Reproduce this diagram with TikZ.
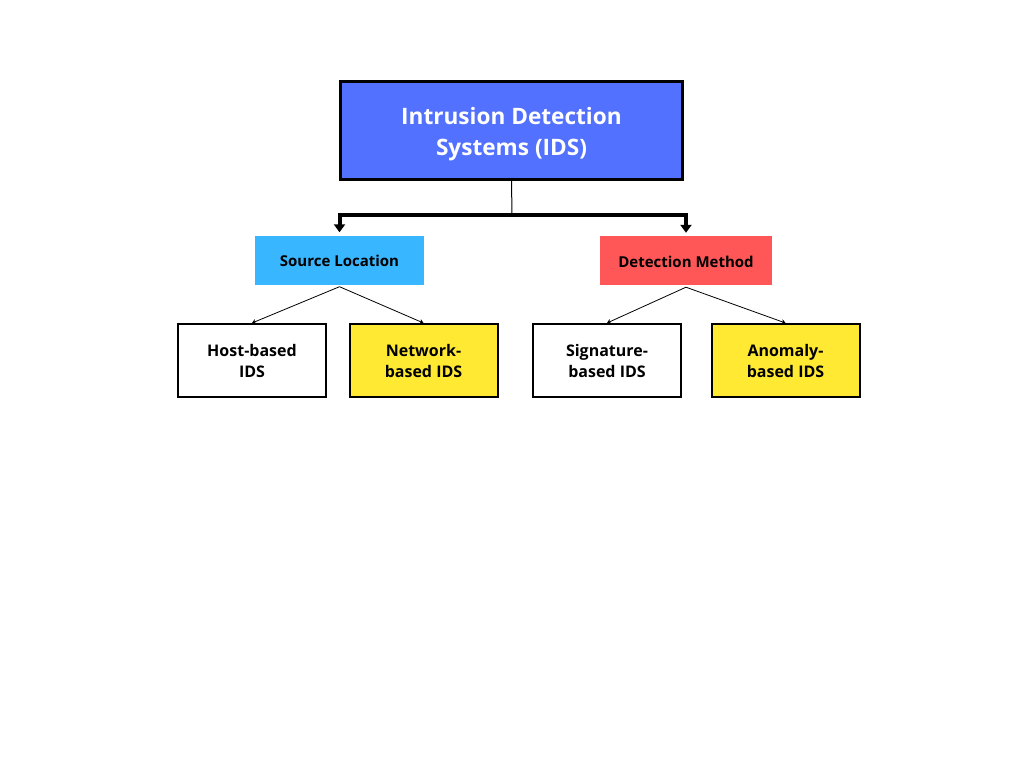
\documentclass[tikz,border=0pt]{standalone}
\usepackage{fontspec}
\setmainfont{Open Sans}
\usetikzlibrary{arrows.meta,positioning}

\definecolor{idsblue}{HTML}{5271FF}
\definecolor{srcblue}{HTML}{38B6FF}
\definecolor{detred}{HTML}{FF5757}
\definecolor{idsyellow}{HTML}{FFE933}

\tikzset{
  rootbox/.style={draw=black,line width=3pt,fill=idsblue,
    minimum width=342pt,minimum height=98pt},
  roottext/.style={text=white,align=center,
    font=\fontsize{22.6}{31}\selectfont\bfseries},
  groupbox/.style={minimum height=49pt,align=center,text height=13pt,text depth=0pt,
    font=\fontsize{15}{18}\selectfont\bfseries},
  leafbox/.style={draw=black,line width=2pt,minimum width=148pt,
    minimum height=73pt,align=center,
    font=\fontsize{16}{21}\selectfont\bfseries},
  bigarrow/.style={line width=4pt,-{Triangle[width=11pt,length=8pt]},shorten >=3pt},
  smallarrow/.style={line width=0.8pt,-{Stealth[width=5pt,length=4pt]}}
}

\begin{document}
\begin{tikzpicture}[x=1pt,y=-1pt]
\useasboundingbox (0,0) rectangle (1024,768);

\node[rootbox] (ids) at (511.5,130.5) {};
\node[roottext] (idstext) at ([yshift=-3.5pt]ids.center) {Intrusion Detection\\Systems (IDS)};

\node[groupbox,fill=srcblue,minimum width=169pt] (src) at (339.5,260) {Source Location};
\node[groupbox,fill=detred,minimum width=172pt] (det) at (686,260.5) {Detection Method};

\node[leafbox,fill=white] (host) at (252,360.5) {Host-based\\IDS};
\node[leafbox,fill=idsyellow] (net) at (423.5,360.5) {Network-\\based IDS};
\node[leafbox,fill=white] (sig) at (607,360.5) {Signature-\\based IDS};
\node[leafbox,fill=idsyellow] (ano) at (785.5,360.5) {Anomaly-\\based IDS};

\coordinate (fork) at (512,215);

% root to groups
\draw[line width=1pt] (ids.south) -- (fork);
\draw[bigarrow] (fork) -| (src.north);
\draw[bigarrow] (fork) -| (det.north);

% groups to leaves
\draw[smallarrow] ([yshift=-2pt]src.south) -- (host.north);
\draw[smallarrow] ([yshift=-2pt]src.south) -- (net.north);
\draw[smallarrow] ([yshift=-2pt]det.south) -- (sig.north);
\draw[smallarrow] ([yshift=-2pt]det.south) -- (ano.north);
\end{tikzpicture}
\end{document}
